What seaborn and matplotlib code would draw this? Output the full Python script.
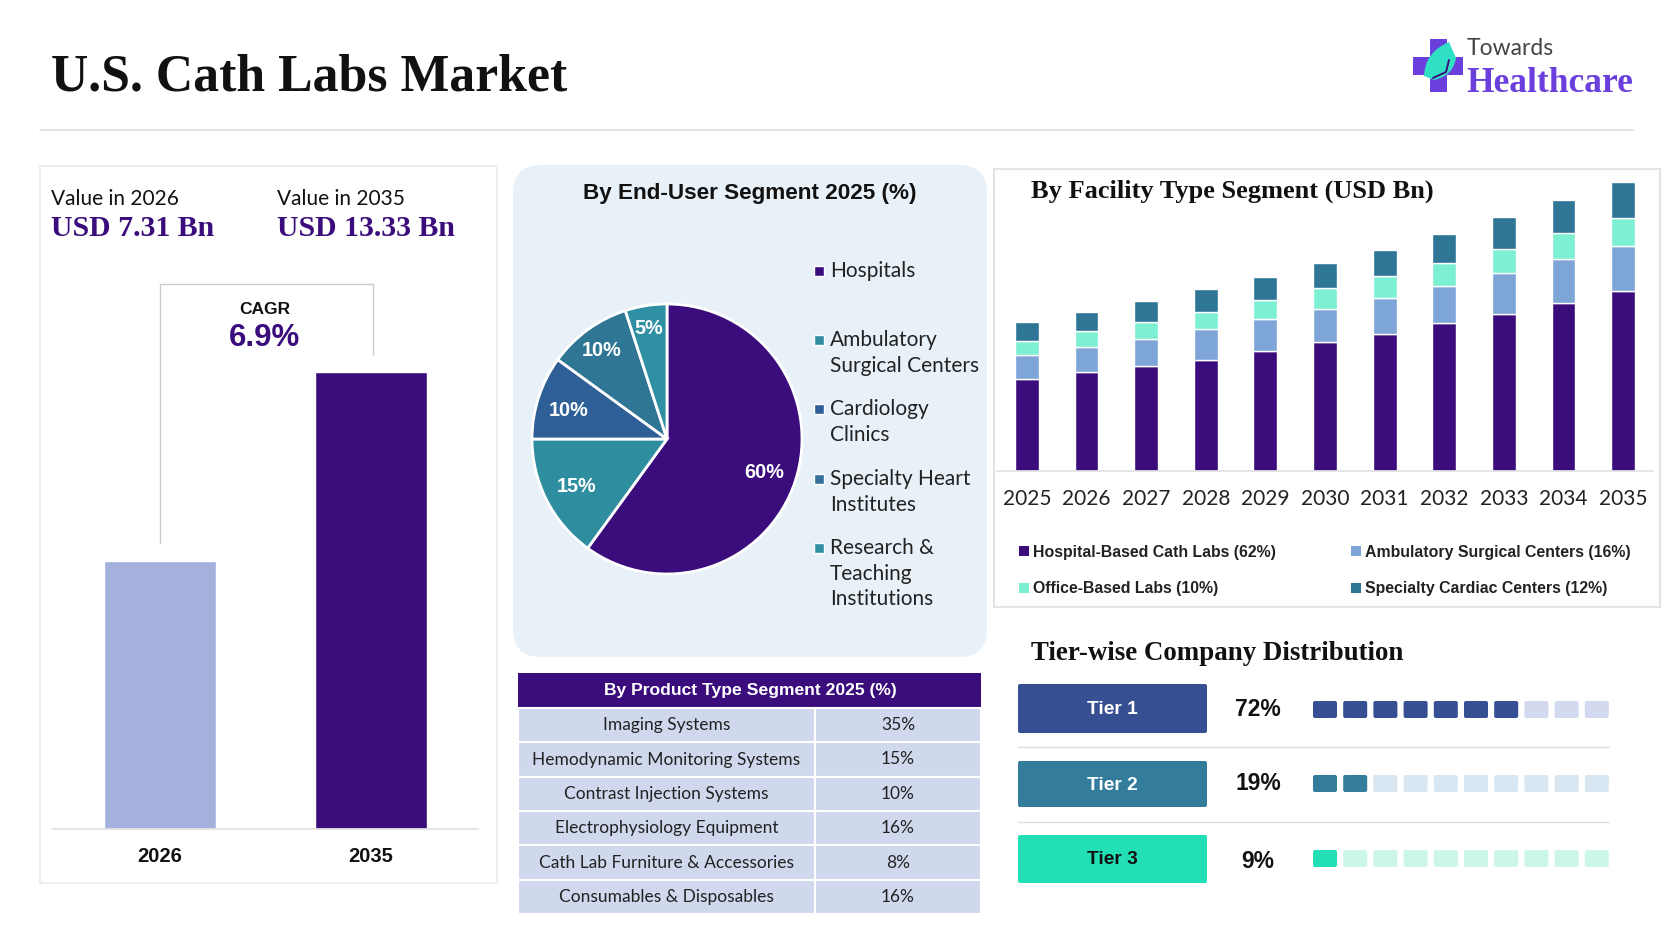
import numpy as np
import pandas as pd
import seaborn as sns
import matplotlib.pyplot as plt
from matplotlib.patches import Rectangle, FancyBboxPatch, PathPatch
from matplotlib.path import Path

# market totals
market_years = ['2026', '2035']
market_heights = [7.82, 13.33]  # as drawn in the picture

# end user pie
end_user_names = ['Hospitals', 'Ambulatory\nSurgical Centers', 'Cardiology\nClinics',
                  'Specialty Heart\nInstitutes', 'Research &\nTeaching\nInstitutions']
end_user_share = [60, 15, 10, 10, 5]

# facility stacked bars
years = ['2025', '2026', '2027', '2028', '2029', '2030', '2031', '2032', '2033', '2034', '2035']
hospital_based = [4.25, 4.56, 4.84, 5.14, 5.52, 5.93, 6.32, 6.83, 7.23, 7.76, 8.28]
ambulatory = [1.11, 1.14, 1.27, 1.41, 1.47, 1.55, 1.64, 1.70, 1.88, 2.01, 2.10]
office_based = [0.63, 0.74, 0.76, 0.79, 0.91, 0.97, 1.04, 1.07, 1.14, 1.22, 1.31]
specialty = [0.87, 0.90, 0.96, 1.04, 1.04, 1.14, 1.19, 1.31, 1.47, 1.50, 1.64]
facility_names = ['Hospital-Based Cath Labs (62%)', 'Ambulatory Surgical Centers (16%)',
                  'Office-Based Labs (10%)', 'Specialty Cardiac Centers (12%)']

# product table
product_names = ['Imaging Systems', 'Hemodynamic Monitoring Systems', 'Contrast Injection Systems',
                 'Electrophysiology Equipment', 'Cath Lab Furniture & Accessories',
                 'Consumables & Disposables']
product_share = [35, 15, 10, 16, 8, 16]

# tiers
tier_names = ['Tier 1', 'Tier 2', 'Tier 3']
tier_share = [72, 19, 9]
tier_filled = [7, 2, 1]

PURPLE = '#3B0D7C'
SANS = ['Lato', 'DejaVu Sans']
BOLD = ['Liberation Sans', 'DejaVu Sans']
SERIF = ['Liberation Serif', 'DejaVu Serif']
W, H = 1672, 941

sns.set_theme(style='white')
plt.rcParams['font.family'] = SANS

fig = plt.figure(figsize=(W / 100, H / 100), dpi=100, facecolor='white')
bg = fig.add_axes([0, 0, 1, 1])
bg.set_xlim(0, W)
bg.set_ylim(H, 0)
bg.axis('off')
# text layer above the chart axes
top = fig.add_axes([0, 0, 1, 1], zorder=10)
top.set_xlim(0, W)
top.set_ylim(H, 0)
top.axis('off')


def px_axes(x0, y0, x1, y1):
    ax = fig.add_axes([x0 / W, 1 - y1 / H, (x1 - x0) / W, (y1 - y0) / H])
    ax.patch.set_alpha(0)
    return ax


def put(x, y, s, size, color='#111111', weight='normal', ha='left', family=None, **kw):
    if family is None:
        family = BOLD if weight == 'bold' else SANS
    top.text(x, y, s, fontsize=size, color=color, fontweight=weight, ha=ha, va='center',
             family=family, **kw)


def box(x0, y0, x1, y1, color, rad=3, zorder=1, edge='none'):
    bg.add_patch(FancyBboxPatch((x0 + rad, y0 + rad), x1 - x0 - 2 * rad, y1 - y0 - 2 * rad,
                                boxstyle='round,pad=%s,rounding_size=%s' % (rad, rad),
                                fc=color, ec=edge, lw=1, zorder=zorder))


# header
put(51, 77, 'U.S. Cath Labs Market', 37.3, weight='bold', family=SERIF)
bg.plot([40, 1633], [130, 130], color='#DDDDDD', lw=1.2)

# logo
LOGO = '#6A3FDC'
bg.add_patch(Rectangle((1430, 39), 17, 53, fc=LOGO, ec='none'))
bg.add_patch(Rectangle((1413, 57), 50, 18, fc=LOGO, ec='none'))
leaf = Path([(1449, 42), (1425, 52), (1424, 76), (1434, 80), (1453, 76), (1456, 58), (1449, 42)],
            [Path.MOVETO, Path.CURVE3, Path.CURVE3, Path.LINETO, Path.CURVE3, Path.CURVE3, Path.CLOSEPOLY])
bg.add_patch(PathPatch(leaf, fc='#2FE0C4', ec='none', zorder=2))
bg.plot([1449, 1446, 1433], [60, 72, 78], color=PURPLE, lw=1.4, zorder=3)
put(1467, 48, 'Towards', 16.5, color='#444444')
put(1466, 83, 'Healthcare', 25.5, color=LOGO, weight='bold', family=SERIF)

# left panel
bg.add_patch(Rectangle((40, 166), 457, 717, fc='white', ec='#EEEEEE', lw=1.5))
put(51, 199, 'Value in 2026', 15)
put(277, 199, 'Value in 2035', 15)
put(51, 228, 'USD 7.31 Bn', 21.4, color=PURPLE, weight='bold', family=SERIF)
put(277, 228, 'USD 13.33 Bn', 21.4, color=PURPLE, weight='bold', family=SERIF)
bg.plot([160, 160, 373, 373], [543, 284, 284, 355], color='#CCCCCC', lw=1)
put(265, 310, 'CAGR', 12.5, weight='bold', ha='center')
put(265, 338, '6.9%', 22.5, color=PURPLE, weight='bold', ha='center')

ax = px_axes(53, 372, 478, 829)
sns.barplot(x=market_years, y=market_heights, hue=market_years, palette=['#A3B1DC', PURPLE],
            width=0.53, legend=False, saturation=1, ax=ax)
ax.set_xlim(-0.507, 1.507)
ax.set_ylim(0, 13.33)
ax.set_yticks([])
sns.despine(ax=ax, left=True)
ax.spines['bottom'].set_color('#E2E2E2')
ax.tick_params(axis='x', length=0, pad=13)
for t in ax.get_xticklabels():
    t.set_fontsize(14.5)
    t.set_fontweight('bold')
    t.set_family(BOLD)
    t.set_color('#111111')

# end user panel
box(513, 165, 987, 657, '#E8F1F7', rad=28)
put(750, 193, 'By End-User Segment 2025 (%)', 16.2, weight='bold', ha='center')
pie_colors = [PURPLE, '#2F8DA0', '#2F5F97', '#2F7594', '#2F90A3']
ax = px_axes(667 - 135, 439 - 135, 667 + 135, 439 + 135)
ax.pie(end_user_share, colors=pie_colors, startangle=90, counterclock=False, radius=1,
       wedgeprops={'edgecolor': 'white', 'linewidth': 2})
ax.set_xlim(-1, 1)
ax.set_ylim(-1, 1)
for (lx, ly), v in zip([(764, 472), (577, 486), (569, 410), (602, 350), (649, 328)], end_user_share):
    put(lx, ly, '%d%%' % v, 14.3, color='white', weight='bold', ha='center')
legend_colors = [PURPLE, '#2F8CA3', '#2F5F97', '#33709B', '#2F90A3']
for name, c, ly in zip(end_user_names, legend_colors, [271, 340, 409, 479, 548]):
    bg.add_patch(Rectangle((814, ly - 5), 10, 10, fc=c, ec='white', lw=1, zorder=3))
    for i, line in enumerate(name.split('\n')):
        put(830, ly + i * 25.5, line, 15, color='#222222')

# facility panel
bg.add_patch(Rectangle((994, 169), 666, 438, fc='white', ec='#E4E4E4', lw=1.5))
put(1031, 191, 'By Facility Type Segment (USD Bn)', 19, weight='bold', family=SERIF)
ax = px_axes(997, 182, 1653, 471)
stack_colors = [PURPLE, '#7DA5D8', '#7DEFD3', '#2F7596']
bottom = np.zeros(len(years))
for vals, c in zip([hospital_based, ambulatory, office_based, specialty], stack_colors):
    sns.barplot(x=years, y=vals, bottom=bottom, color=c, width=0.4, saturation=1, ax=ax)
    bottom = bottom + np.array(vals)
ax.set_xlim(-0.5, 10.5)
ax.set_ylim(0, 13.33)
ax.set_yticks([])
sns.despine(ax=ax, left=True)
ax.spines['bottom'].set_color('#E2E2E2')
ax.tick_params(axis='x', length=0, pad=13, labelsize=15, labelcolor='#222222')
for name, c, (mx, my) in zip(facility_names, stack_colors, [(1024, 551), (1356, 551), (1024, 588), (1356, 588)]):
    bg.add_patch(Rectangle((mx - 5, my - 5), 10, 10, fc=c, ec='none', zorder=3))
    put(mx + 9, my + 1, name, 11.4, color='#222222', weight='bold')

# product table
bg.add_patch(Rectangle((518, 673), 463, 35, fc=PURPLE, ec='none'))
put(750, 690, 'By Product Type Segment 2025 (%)', 12.6, color='white', weight='bold', ha='center')
ax = px_axes(518, 708, 981, 914)
ax.axis('off')
rows = pd.DataFrame({'name': product_names, 'share': ['%d%%' % v for v in product_share]})
tb = ax.table(cellText=rows.values, colWidths=[297 / 463, 166 / 463], cellLoc='center', bbox=[0, 0, 1, 1])
tb.auto_set_font_size(False)
tb.set_fontsize(12.5)
for cell in tb.get_celld().values():
    cell.set_facecolor('#CFD8EC')
    cell.set_edgecolor('white')
    cell.set_linewidth(1.5)
    cell.get_text().set_color('#222222')

# tier panel
put(1031, 653, 'Tier-wise Company Distribution', 19.4, weight='bold', family=SERIF)
tier_boxes = [(684, 733), (761, 807), (835, 883)]
tier_colors = ['#364F93', '#337C9C', '#22DFB5']
tier_light = ['#D3D9EE', '#D7E6F0', '#CCF6E9']
tier_text = ['white', 'white', '#111111']
square_y = [701, 775, 850]
pct_y = [709, 784, 861]
for i, name in enumerate(tier_names):
    y0, y1 = tier_boxes[i]
    box(1018, y0, 1207, y1, tier_colors[i], rad=2)
    put(1112, (y0 + y1) / 2 + 1, name, 13.8, color=tier_text[i], weight='bold', ha='center')
    put(1258, pct_y[i], '%d%%' % tier_share[i], 16.5, weight='bold', ha='center')
    for k in range(10):
        c = tier_colors[i] if k < tier_filled[i] else tier_light[i]
        box(1313 + k * 30.2, square_y[i], 1337 + k * 30.2, square_y[i] + 17, c, rad=2)
for y in [747, 822]:
    bg.plot([1018, 1609], [y, y], color='#DDDDDD', lw=1)

fig.savefig('out.png', dpi=100, facecolor='white')
